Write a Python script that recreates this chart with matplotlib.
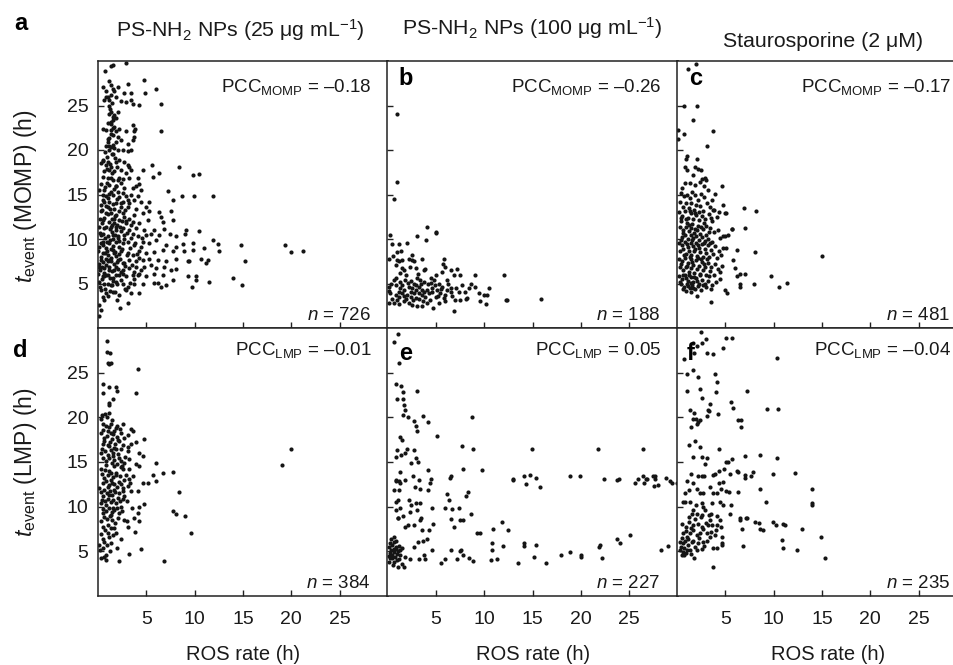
import numpy as np
import matplotlib
matplotlib.use("Agg")
import matplotlib.pyplot as plt

plt.rcParams['font.family'] = ['Liberation Sans', 'DejaVu Sans']
plt.rcParams['mathtext.fontset'] = 'custom'
plt.rcParams['mathtext.rm'] = 'Liberation Sans'
plt.rcParams['mathtext.it'] = 'Liberation Sans:italic'
plt.rcParams['mathtext.bf'] = 'Liberation Sans:bold'

# ---- data (ROS rate, t_event) ----
pts_a = [
    (1.34, 29.4), (1.52, 29.6), (0.76, 28.9), (2.9, 29.8),
    (1.17, 27.7), (1.34, 27.3), (0.48, 27.1), (1.52, 26.9), (2.03, 27.1), (3.14, 27.4), (4.79, 27.9), (6.0, 26.9),
    (1.69, 26.6), (2.72, 26.4), (3.41, 26.4), (4.9, 26.4), (0.83, 26.6), (1.0, 26.0), (1.34, 26.2), (1.86, 26.0),
    (0.66, 25.6), (1.17, 25.6), (2.38, 25.5), (2.9, 25.4), (3.41, 25.6), (4.28, 25.1), (6.52, 25.2), (3.59, 25.2),
    (1.17, 24.9), (1.34, 24.3), (1.69, 23.9), (1.17, 24.1), (1.86, 23.6), (1.34, 23.2), (2.03, 24.3), (1.52, 23.4),
    (1.0, 23.0), (2.21, 22.4), (3.59, 22.8), (3.86, 22.4), (3.76, 22.1), (3.76, 21.5), (6.52, 22.1), (1.69, 22.6),
    (0.48, 22.4), (0.83, 22.2), (1.34, 22.2), (1.86, 22.1), (2.9, 22.1), (1.52, 21.7), (2.03, 21.5), (1.17, 21.3),
    (1.0, 20.9), (1.86, 20.9), (2.38, 21.1), (3.07, 20.7), (3.59, 21.1), (0.83, 20.4), (1.34, 20.3), (1.69, 20.2),
    (1.17, 20.0), (2.03, 20.0), (2.55, 20.0), (3.07, 19.9), (3.41, 20.0), (1.52, 19.6),
    (0.48, 18.9), (1.0, 18.7), (0.83, 18.3), (0.31, 18.5), (1.34, 18.1), (1.86, 18.7), (2.21, 18.9), (2.72, 18.7),
    (3.07, 18.3), (3.24, 18.1), (1.17, 17.8), (1.69, 17.6), (2.38, 17.8), (2.9, 17.4), (3.41, 17.8), (4.62, 17.8),
    (5.59, 18.3), (5.72, 17.0), (6.34, 17.4), (8.34, 18.1), (9.86, 17.2), (10.48, 17.3), (0.48, 17.0), (1.0, 16.8),
    (1.52, 16.6), (2.03, 16.6), (2.55, 16.7), (3.24, 16.8), (4.1, 16.8), (4.28, 16.2), (3.93, 15.9), (4.45, 15.5),
    (1.17, 16.1), (1.86, 15.9), (2.38, 16.3), (0.66, 15.5), (1.34, 15.3), (2.03, 15.3), (2.72, 15.7), (3.59, 15.7),
    (7.21, 15.4), (0.83, 14.8), (1.52, 14.9), (2.21, 14.7), (2.9, 14.8), (3.41, 14.9), (4.1, 14.8), (0.48, 14.4),
    (1.17, 14.2), (1.86, 14.0), (2.55, 14.2), (3.24, 14.0), (3.76, 14.4), (4.45, 14.2), (5.31, 14.2), (7.72, 14.4),
    (8.69, 14.8), (9.97, 14.8), (11.86, 14.8), (1.0, 13.6), (1.69, 13.4), (2.38, 13.6), (3.07, 13.6), (3.93, 13.4),
    (4.97, 13.6),
    (0.31, 13.1), (0.83, 12.9), (1.34, 12.9), (1.86, 12.7), (2.21, 13.1), (2.72, 12.5), (3.24, 12.3), (3.76, 12.7),
    (4.62, 12.9), (5.31, 13.1), (6.34, 13.0), (6.52, 12.5), (7.55, 13.1), (0.48, 12.1), (1.17, 11.9), (1.69, 11.8),
    (2.21, 12.1), (2.9, 11.8), (3.59, 11.9), (4.28, 11.8), (5.14, 12.1), (6.69, 11.9), (7.72, 12.1), (0.14, 11.4),
    (0.66, 11.2), (1.34, 11.4), (1.86, 11.0), (2.55, 11.2), (3.24, 11.0), (3.93, 11.2), (4.79, 11.0), (5.83, 11.0),
    (6.86, 11.1), (9.1, 11.0), (9.03, 10.6), (10.48, 10.9), (0.31, 10.4), (1.0, 10.3), (1.52, 10.4), (2.03, 10.1),
    (2.72, 10.4), (3.41, 10.1), (4.1, 10.3), (4.97, 10.4), (5.48, 10.6), (6.34, 10.4), (7.45, 10.6), (8.07, 10.3),
    (0.48, 9.7), (1.17, 9.5), (1.86, 9.7), (2.55, 9.5), (3.07, 9.7), (3.76, 9.3), (4.62, 9.7), (5.31, 9.6),
    (6.0, 9.9), (7.03, 9.3), (8.07, 9.1), (8.83, 9.4), (9.79, 9.5), (11.86, 9.9), (12.38, 9.4), (0.14, 9.1),
    (0.83, 9.0), (1.52, 8.8), (2.21, 9.1),
    (0.05, 8.6), (0.48, 8.4), (1.0, 8.2), (1.69, 8.4), (2.38, 8.6), (3.07, 8.4), (3.59, 8.2), (4.28, 8.6),
    (4.97, 8.4), (5.83, 8.5), (6.69, 8.8), (7.72, 8.6), (8.93, 8.6), (9.79, 8.8), (11.0, 9.0), (12.55, 8.7),
    (0.31, 7.6), (0.83, 7.8), (1.34, 7.5), (2.03, 7.6), (2.72, 7.3), (3.24, 7.6), (3.93, 7.5), (4.62, 7.6),
    (5.31, 7.8), (6.17, 7.6), (7.03, 7.5), (8.07, 7.8), (9.45, 7.5), (10.66, 7.8), (11.34, 7.6), (11.17, 7.3),
    (0.14, 6.9), (0.66, 6.7), (1.17, 6.5), (1.86, 6.9), (2.55, 6.5), (3.24, 6.7), (3.76, 6.3), (4.79, 6.9),
    (5.48, 7.1), (6.0, 6.7), (6.86, 6.9), (7.55, 6.5), (8.07, 6.6), (9.28, 7.5), (0.03, 6.1), (0.48, 5.8),
    (1.0, 6.0), (1.52, 5.6), (2.21, 6.0), (2.9, 5.8), (3.59, 6.0), (4.28, 6.1), (4.97, 5.8), (5.83, 6.1),
    (6.69, 6.0), (7.72, 5.4), (9.28, 5.8), (10.14, 5.8), (0.14, 5.2), (0.66, 5.0), (1.34, 4.8), (1.86, 5.2),
    (2.55, 5.0), (3.07, 4.6), (3.76, 5.0), (4.62, 5.0), (5.83, 5.1), (6.17, 5.1), (7.03, 4.8), (10.14, 5.4),
    (11.52, 5.2), (13.93, 5.6), (0.31, 4.3), (0.83, 3.9), (1.52, 4.1), (2.21, 3.7), (2.9, 4.3), (3.41, 3.9),
    (4.28, 3.9), (6.52, 4.6), (9.72, 4.6), (0.48, 3.5), (0.14, 2.6), (3.07, 2.8), (2.28, 2.2), (0.14, 1.3),
    (14.8, 9.3), (19.3, 9.3), (20.0, 8.5), (21.2, 8.6), (15.2, 7.5), (14.9, 4.8),
    (0.2, 4.6), (0.4, 5.5), (0.6, 6.2), (0.8, 7.1), (1.0, 5.0), (1.1, 6.8), (1.3, 7.9), (1.5, 6.4),
    (1.7, 7.2), (1.9, 8.1), (2.1, 6.6), (2.3, 7.7), (2.5, 8.9), (0.3, 8.0), (0.5, 9.3), (0.7, 10.1),
    (0.9, 8.7), (1.2, 9.9), (1.4, 10.8), (1.6, 9.2), (1.8, 10.5), (2.0, 11.6), (2.2, 9.8), (2.4, 10.9),
    (0.2, 10.7), (0.4, 11.8), (0.6, 12.4), (0.8, 11.3), (1.0, 12.8), (1.2, 13.4), (1.4, 12.2), (1.6, 13.9),
    (1.8, 12.6), (2.0, 14.5), (0.3, 13.8), (0.5, 14.9), (0.7, 15.8), (0.9, 16.3), (1.1, 15.1), (1.3, 16.9),
    (1.5, 17.4), (1.7, 15.6), (1.9, 16.0), (0.6, 17.6), (0.9, 19.2), (1.2, 18.4), (1.4, 19.5), (1.6, 20.6),
    (1.0, 21.2), (1.3, 22.9), (1.6, 23.7), (1.2, 24.6), (0.8, 25.9), (1.4, 25.3), (0.2, 6.5), (0.5, 7.4),
    (0.7, 4.4), (1.2, 4.2), (1.6, 5.3), (2.0, 4.9), (2.6, 6.1), (2.8, 7.0), (3.0, 8.2), (3.3, 9.0),
    (2.7, 10.0), (3.0, 10.7), (2.6, 12.9), (2.9, 12.0), (0.1, 7.2), (0.35, 9.6), (0.55, 10.6), (0.75, 8.4),
    (0.95, 9.7), (1.15, 7.6), (1.35, 8.9), (1.55, 10.0), (1.75, 8.5), (1.95, 7.4), (2.15, 8.3), (2.35, 6.3),
    (2.55, 7.3), (0.45, 6.8), (0.65, 5.8), (0.85, 6.0), (1.05, 7.5), (1.25, 5.6), (1.45, 4.8), (1.65, 6.5),
    (1.85, 5.9), (2.05, 10.3), (2.25, 11.3), (2.45, 12.0), (0.25, 12.2), (0.45, 13.3), (0.65, 14.2), (0.85, 13.7),
    (1.05, 14.6), (1.25, 11.1), (1.45, 11.6), (1.65, 12.3), (1.85, 11.4), (0.15, 15.5), (0.35, 16.2), (0.55, 18.8),
    (0.75, 19.8), (0.95, 17.9), (1.15, 20.4), (1.35, 21.8), (1.55, 22.5), (1.75, 19.1), (1.95, 18.1), (2.2, 16.8),
    (2.4, 14.1), (2.6, 15.2), (2.8, 13.3), (3.1, 14.4), (3.4, 11.6), (3.6, 10.6), (3.8, 9.5), (3.5, 7.1),
    (3.9, 6.8), (4.2, 7.9), (4.4, 9.1), (4.6, 10.1), (4.0, 8.3), (3.7, 5.5), (4.1, 5.9), (4.4, 6.5),
    (2.75, 4.4), (3.3, 5.1), (2.4, 5.4), (0.6, 3.2), (1.0, 3.6), (1.8, 4.0), (0.3, 2.0), (2.0, 3.1),
]

pts_b = [
    (1.0, 24.1), (1.0, 16.4), (0.72, 14.5), (4.1, 11.3), (5.0, 10.8), (5.05, 10.7), (3.07, 10.3), (4.03, 9.9),
    (0.31, 10.4), (0.48, 9.4), (1.17, 9.4), (2.03, 9.5), (1.0, 8.5), (0.14, 7.7), (1.0, 7.6), (1.17, 7.5),
    (1.52, 7.6), (2.21, 7.8), (2.55, 7.6), (2.72, 7.5), (3.59, 7.7), (5.83, 7.7), (5.76, 7.2), (0.83, 7.1),
    (1.52, 6.7), (1.69, 6.5), (2.9, 6.7), (3.76, 6.5), (3.93, 6.6), (5.66, 6.3), (6.52, 6.5), (7.14, 6.6),
    (6.86, 6.0), (7.45, 6.0), (9.03, 6.0), (12.03, 6.0),
    (0.66, 5.4), (1.34, 5.2), (1.86, 5.4), (2.38, 5.3), (2.72, 5.0), (3.07, 5.6), (3.41, 5.4), (3.76, 5.2),
    (4.45, 5.6), (4.79, 5.4), (5.31, 5.0), (6.17, 5.4),
    (0.14, 4.6), (0.83, 4.8), (1.34, 4.5), (1.69, 4.3), (2.21, 4.6), (2.55, 4.5), (2.9, 4.3), (3.24, 4.6),
    (3.59, 4.3), (4.1, 4.3), (4.62, 4.5), (5.14, 4.3), (5.66, 4.6), (6.17, 4.3), (6.52, 4.5), (7.38, 4.1),
    (8.41, 4.5), (8.59, 5.0), (9.1, 4.6), (10.48, 4.5), (9.45, 3.9), (9.97, 3.7), (10.31, 3.7),
    (0.31, 3.9), (0.83, 3.7), (1.17, 3.5), (1.52, 3.9), (2.03, 3.7), (2.38, 3.5), (2.72, 3.9), (3.24, 3.3),
    (3.59, 3.7), (3.93, 3.5), (4.28, 3.9), (4.97, 3.5), (5.48, 3.9), (6.0, 3.7), (6.52, 4.1), (7.03, 3.2),
    (7.55, 3.2), (8.07, 3.3), (8.24, 3.4), (9.62, 3.0), (10.24, 2.7), (12.31, 3.1), (12.4, 3.1), (15.83, 3.3),
    (0.14, 2.8), (0.66, 2.8), (1.17, 2.7), (1.69, 3.0), (2.21, 2.8), (2.55, 2.6), (3.07, 2.5), (3.59, 2.5),
    (4.1, 2.8), (4.72, 2.3), (5.31, 2.8), (6.0, 3.0), (6.93, 1.9),
    (0.4, 5.0), (0.9, 5.6), (1.2, 4.1), (1.5, 4.8), (1.9, 3.3), (2.1, 5.1), (2.4, 4.0), (2.6, 3.2),
    (3.0, 4.8), (3.3, 3.9), (3.5, 5.0), (3.8, 4.0), (4.2, 4.9), (4.4, 3.1), (4.6, 4.0), (4.9, 4.8),
    (5.2, 3.6), (5.5, 4.4), (5.8, 3.4), (6.3, 4.9), (6.7, 3.6), (7.1, 4.5), (7.7, 4.8), (8.0, 4.0),
    (1.3, 6.2), (1.9, 6.0), (2.3, 6.9), (3.2, 6.1), (0.5, 3.3), (0.2, 4.2), (1.0, 3.1), (2.9, 3.4),
    (3.7, 3.0), (4.5, 5.1), (5.0, 5.9), (6.0, 6.8), (0.6, 8.1), (1.4, 8.7), (2.5, 8.2), (1.7, 3.6),
]

pts_c = [
    (1.93, 29.7), (1.17, 29.1), (0.76, 24.9), (2.03, 24.9), (1.62, 23.4), (0.14, 22.2), (0.72, 21.8), (0.14, 21.2),
    (3.76, 22.1), (3.07, 20.4), (1.0, 19.3), (0.93, 19.0), (2.03, 19.0),
    (0.83, 18.1), (1.0, 17.8), (1.86, 18.1), (2.21, 17.9), (1.69, 17.2), (2.48, 17.8), (2.9, 16.8), (2.55, 16.7),
    (3.0, 16.6), (0.48, 15.7), (0.83, 16.3), (1.34, 16.3), (1.86, 16.1), (2.38, 16.4), (2.83, 15.9), (3.93, 15.1),
    (4.62, 15.9), (3.59, 14.4), (3.24, 15.5),
    (0.4, 15.2), (0.7, 14.8), (1.0, 15.0), (1.3, 14.6), (1.6, 15.3), (1.9, 14.9), (2.2, 14.4), (2.5, 15.1),
    (2.8, 14.7), (0.3, 14.2), (0.9, 14.1), (1.5, 14.0), (2.0, 13.8), (3.1, 14.1), (3.4, 13.6), (0.6, 13.6),
    (1.2, 13.5), (1.8, 13.3), (2.4, 13.7), (2.7, 13.2), (3.8, 13.3), (4.3, 13.0),
    (0.2, 13.0), (0.5, 12.6), (0.8, 13.1), (1.1, 12.4), (1.4, 12.9), (1.7, 12.2), (2.0, 12.7), (2.3, 12.1),
    (2.6, 12.6), (2.9, 12.3), (3.3, 12.8), (3.6, 12.0), (4.1, 12.5), (0.4, 12.0), (1.0, 11.8), (1.6, 11.7),
    (2.2, 11.5), (2.8, 11.8), (5.0, 12.9),
    (0.3, 11.3), (0.6, 11.0), (0.9, 11.4), (1.2, 10.9), (1.5, 11.2), (1.8, 10.7), (2.1, 11.0), (2.4, 10.6),
    (2.7, 11.1), (3.0, 10.5), (3.4, 11.2), (3.8, 10.8), (4.2, 11.0), (4.8, 10.3), (5.7, 11.1), (0.5, 10.2),
    (0.8, 10.5), (1.1, 10.0), (1.4, 10.4), (1.7, 10.1), (2.0, 10.3), (2.3, 9.9), (2.6, 10.2), (2.9, 9.8),
    (3.2, 10.0), (3.6, 9.7), (4.4, 10.1), (5.3, 10.5),
    (0.2, 9.6), (0.5, 9.3), (0.8, 9.7), (1.1, 9.1), (1.4, 9.5), (1.7, 9.2), (2.0, 9.6), (2.3, 9.0),
    (2.6, 9.4), (2.9, 8.9), (3.2, 9.3), (3.5, 8.8), (3.9, 9.2), (4.3, 8.7), (4.8, 9.0), (5.1, 9.0),
    (6.17, 8.8), (0.3, 8.6), (0.6, 8.9), (0.9, 8.3), (1.2, 8.7), (1.5, 8.2), (1.8, 8.6), (2.1, 8.1),
    (2.4, 8.5), (2.7, 8.0), (3.0, 8.4), (3.3, 8.0), (3.7, 8.3), (4.1, 7.9), (4.6, 8.2), (5.83, 7.6),
    (8.1, 8.5), (15.0, 8.1),
    (0.2, 7.8), (0.5, 7.5), (0.8, 7.9), (1.1, 7.3), (1.4, 7.7), (1.7, 7.1), (2.0, 7.6), (2.3, 7.0),
    (2.6, 7.4), (2.9, 6.9), (3.2, 7.3), (3.5, 6.8), (3.9, 7.2), (4.2, 6.6), (4.7, 7.0), (0.3, 6.8),
    (0.6, 6.5), (0.9, 6.9), (1.2, 6.3), (1.5, 6.7), (1.8, 6.2), (2.1, 6.6), (2.4, 6.1), (2.7, 6.5),
    (3.0, 6.0), (3.4, 6.4), (3.8, 6.0), (4.4, 6.3), (6.0, 6.7), (6.52, 6.1), (7.03, 6.1), (6.17, 5.8),
    (9.72, 5.8),
    (0.2, 5.8), (0.5, 5.5), (0.8, 5.9), (1.1, 5.3), (1.4, 5.7), (1.7, 5.2), (2.0, 5.6), (2.3, 5.0),
    (2.6, 5.4), (2.9, 4.9), (3.2, 5.3), (3.6, 4.8), (4.0, 5.2), (4.5, 5.5), (0.4, 4.9), (0.7, 4.6),
    (1.0, 5.0), (1.3, 4.5), (1.6, 4.8), (1.9, 4.4), (2.2, 4.7), (2.5, 4.3), (3.0, 4.6), (3.5, 4.4),
    (6.5, 5.0), (6.5, 4.6), (8.0, 5.0), (10.55, 4.6), (11.4, 5.1), (5.0, 4.3), (5.2, 3.9), (2.03, 3.6),
    (3.48, 2.9), (1.5, 4.1), (0.9, 4.2),
    (6.97, 13.5), (8.14, 13.1), (7.03, 11.2), (5.72, 11.1), (4.97, 10.3), (5.07, 12.9), (4.79, 13.8), (3.76, 13.3),
    (0.45, 12.4), (0.95, 12.2), (1.35, 13.2), (1.85, 12.9), (2.25, 13.0), (0.65, 10.7), (1.25, 11.6), (1.9, 11.1),
    (2.5, 11.3), (0.4, 9.9), (1.0, 9.4), (1.6, 9.9), (2.2, 9.3), (2.8, 9.6), (0.7, 8.2), (1.3, 8.0),
    (1.9, 8.9), (2.5, 7.8), (0.4, 7.2), (1.0, 7.0), (1.6, 7.4), (2.2, 7.9), (2.8, 7.2), (0.6, 6.0),
    (1.2, 5.9), (1.8, 5.7), (2.4, 5.9), (0.3, 5.2), (0.9, 5.6), (1.5, 5.1), (2.1, 5.3), (2.7, 4.8),
    (1.1, 4.7), (1.7, 4.5), (0.6, 4.4), (3.3, 5.8), (3.1, 7.7), (3.4, 9.6), (3.3, 10.8), (3.0, 11.5),
    (3.5, 12.4),
]

pts_d = [
    (0.9, 28.6), (0.9, 27.3), (1.24, 27.2), (1.0, 26.1), (1.34, 26.1), (1.17, 26.0), (4.1, 25.4), (0.55, 23.7),
    (1.17, 23.4), (1.86, 23.4), (1.93, 23.0), (0.55, 22.7), (3.93, 22.7), (1.52, 22.1), (1.1, 21.6), (1.17, 21.4),
    (0.76, 20.4), (1.17, 20.5), (0.9, 20.0), (0.41, 20.3), (0.31, 19.8),
    (0.48, 19.2), (1.34, 19.2), (2.55, 19.3), (1.86, 18.8), (1.0, 18.5), (3.41, 18.7), (3.59, 18.5), (0.31, 18.2),
    (1.52, 18.1), (2.38, 18.3), (3.07, 18.0), (0.66, 17.7), (2.03, 17.5), (2.72, 17.7), (4.79, 17.6), (3.93, 17.2),
    (3.41, 17.0), (0.48, 17.0), (1.17, 16.8), (1.69, 16.6), (2.38, 16.4), (3.07, 16.7), (4.28, 16.0), (4.62, 15.7),
    (0.31, 16.0), (1.0, 15.8), (1.52, 15.7), (2.21, 15.5), (3.24, 15.3), (2.72, 14.9), (3.93, 14.8), (4.28, 14.6),
    (6.0, 14.9), (0.83, 14.7), (1.69, 14.6), (2.38, 14.4), (0.31, 14.2), (1.17, 14.0), (1.86, 13.8), (2.55, 14.2),
    (3.17, 14.2), (5.66, 13.6), (6.69, 13.8), (7.79, 13.9), (0.66, 13.2), (1.34, 13.0), (2.21, 12.8), (3.24, 13.1),
    (6.0, 12.9), (4.62, 12.7), (5.14, 12.7), (0.14, 12.1), (1.0, 12.2), (1.69, 11.9), (2.55, 12.1), (3.07, 12.3),
    (3.41, 11.7), (4.1, 11.8), (8.41, 11.6), (0.48, 11.2), (1.17, 11.3), (2.03, 11.0), (2.72, 11.2), (4.79, 10.3),
    (4.28, 10.0), (3.52, 9.9), (0.31, 10.4), (0.83, 10.2), (1.52, 9.9), (2.38, 10.0), (0.48, 9.3), (1.34, 9.1),
    (2.21, 9.3), (4.1, 9.3), (4.28, 8.4), (3.76, 8.7), (7.79, 9.5), (8.07, 9.2), (9.03, 8.9), (2.72, 8.5),
    (2.97, 8.4), (2.03, 8.7), (0.31, 8.4), (1.0, 8.0), (1.69, 7.6), (0.48, 7.7), (3.07, 7.7), (3.86, 7.2),
    (9.62, 7.1), (0.31, 6.9), (1.17, 6.6), (1.86, 7.0), (2.38, 6.4), (0.66, 6.1), (1.34, 5.9), (0.14, 5.7),
    (0.48, 5.4), (4.45, 5.3), (1.93, 5.4), (0.83, 4.6), (0.31, 4.2), (0.83, 4.0), (3.24, 4.7), (2.21, 3.9),
    (6.83, 3.9), (19.0, 14.7), (20.0, 16.5),
    (0.5, 18.6), (0.8, 19.0), (1.1, 18.9), (1.3, 18.3), (1.7, 18.5), (2.0, 19.0), (2.3, 18.7), (0.6, 17.3),
    (0.9, 17.9), (1.2, 17.2), (1.5, 17.6), (1.8, 17.0), (2.2, 17.3), (2.6, 16.9), (0.4, 16.5), (0.7, 16.2),
    (1.0, 16.9), (1.3, 16.3), (1.6, 16.0), (1.9, 16.4), (2.1, 15.9), (0.5, 15.4), (0.8, 15.1), (1.1, 15.5),
    (1.4, 14.9), (1.7, 15.2), (2.0, 14.8), (2.4, 15.1), (2.8, 15.6), (0.4, 13.7), (0.7, 14.1), (1.0, 13.5),
    (1.3, 13.8), (1.6, 13.3), (1.9, 13.6), (2.3, 13.4), (2.7, 13.0), (0.5, 12.6), (0.8, 12.9), (1.1, 12.4),
    (1.4, 12.7), (1.7, 12.5), (2.0, 12.2), (2.4, 12.5), (0.3, 11.6), (0.6, 11.9), (0.9, 11.5), (1.2, 11.8),
    (1.5, 11.3), (1.8, 11.6), (2.2, 11.5), (2.6, 11.7), (0.4, 10.8), (0.7, 10.6), (1.0, 10.9), (1.3, 10.5),
    (1.6, 10.7), (1.9, 10.4), (2.3, 10.6), (0.5, 9.7), (0.8, 9.5), (1.1, 9.8), (1.4, 9.4), (1.7, 9.6),
    (2.0, 9.9), (2.5, 9.5), (0.6, 8.8), (0.9, 8.6), (1.2, 8.9), (1.5, 8.5), (1.8, 8.2), (0.7, 7.4),
    (1.0, 7.1), (1.3, 7.6), (1.6, 6.8), (0.5, 6.4), (0.9, 5.7), (1.2, 5.0), (0.2, 5.2), (0.6, 4.4),
    (2.6, 10.9), (2.9, 13.5), (3.0, 10.6), (3.3, 12.6), (3.6, 13.4), (2.5, 14.6), (3.1, 16.2), (1.5, 19.7),
    (2.0, 17.8),
]

pts_e = [
    (1.07, 29.3), (0.72, 28.4), (1.24, 26.1), (0.93, 23.7), (1.41, 23.5), (1.62, 22.8), (1.0, 22.0), (1.62, 22.0),
    (1.69, 21.4), (1.76, 20.8), (1.62, 20.3), (2.1, 20.0), (2.72, 19.6), (3.0, 19.0), (3.07, 18.5), (4.17, 19.5),
    (3.69, 20.2), (3.07, 23.0), (5.14, 17.9), (1.52, 17.5), (1.28, 17.8), (1.0, 16.3), (0.93, 15.6), (1.41, 15.8),
    (1.97, 16.5), (1.86, 16.0), (2.72, 16.3), (3.0, 15.4), (3.14, 15.0), (2.45, 14.9), (1.28, 13.9), (0.93, 12.9),
    (1.34, 12.7), (1.17, 11.9), (1.76, 13.0), (2.66, 13.4), (2.83, 12.2), (3.24, 13.0), (3.34, 12.0), (4.17, 14.1),
    (4.45, 13.1), (4.38, 12.7), (1.07, 10.7), (0.93, 10.5), (1.34, 9.8), (1.62, 8.9), (1.07, 8.7), (1.76, 7.7),
    (2.21, 10.7), (2.45, 10.2), (2.31, 9.4), (2.9, 10.4), (3.41, 10.4), (3.07, 9.6), (3.48, 8.7), (3.34, 8.5),
    (4.17, 11.9), (4.62, 9.8), (4.72, 8.1), (4.28, 7.4), (3.59, 7.4), (2.72, 7.9), (2.1, 8.0), (0.66, 6.6),
    (0.31, 5.9), (0.66, 6.0), (0.83, 5.3), (1.34, 5.2), (1.0, 4.7), (0.48, 4.6), (0.31, 4.2), (0.66, 3.8),
    (1.17, 4.1), (1.52, 3.6), (1.69, 3.2), (1.86, 4.4), (2.31, 4.1), (2.72, 5.5), (3.14, 6.1), (3.69, 6.2),
    (4.1, 6.4), (4.62, 5.1), (3.24, 4.1), (3.76, 4.6), (3.93, 4.1), (5.55, 3.7), (5.93, 4.1), (6.59, 5.2),
    (7.21, 4.1), (7.48, 5.0), (7.83, 4.6), (7.62, 5.1), (8.41, 4.2), (8.86, 3.9), (7.83, 14.2), (7.72, 16.8),
    (8.83, 16.4), (8.76, 20.0), (9.79, 14.1), (6.52, 13.4), (6.45, 13.2), (6.17, 11.4), (6.34, 10.7), (6.0, 9.8),
    (6.52, 8.6), (7.38, 9.9), (6.69, 9.7), (7.55, 8.5), (6.86, 7.7), (7.83, 8.5), (8.17, 11.2), (8.31, 11.6),
    (8.59, 9.2), (9.28, 7.1), (9.55, 7.0), (10.93, 7.5), (10.83, 5.9), (10.83, 5.2), (10.66, 4.0), (11.28, 4.1),
    (11.86, 8.3), (12.48, 7.4), (11.93, 5.6), (13.0, 13.1), (12.97, 13.0), (14.17, 13.4), (14.34, 12.5), (14.69, 13.5),
    (15.41, 13.2), (15.76, 12.2), (14.97, 16.4), (14.1, 5.9), (14.17, 5.6), (15.41, 5.7), (15.2, 4.4), (13.52, 3.7),
    (16.41, 3.7), (17.97, 4.6), (18.83, 4.9), (18.86, 13.4), (19.9, 13.4), (19.97, 4.6), (20.03, 4.4), (21.79, 16.4),
    (21.93, 5.5), (22.03, 5.7), (22.14, 4.2), (22.38, 13.1), (23.76, 13.0), (23.93, 13.1), (23.69, 6.4), (24.1, 5.9),
    (25.07, 6.8), (25.59, 12.7), (25.9, 13.1), (26.41, 16.4), (26.41, 13.4), (26.52, 12.6), (26.69, 13.1), (26.86, 13.1),
    (27.48, 13.4), (27.72, 13.4), (27.55, 12.3), (27.97, 12.4), (27.66, 13.1), (28.86, 13.2), (29.21, 12.9), (29.45, 12.7),
    (29.97, 12.7), (28.34, 5.2), (29.0, 5.6),
    (0.2, 5.5), (0.4, 5.1), (0.5, 5.7), (0.7, 4.9), (0.9, 5.5), (1.1, 5.0), (1.2, 5.6), (0.3, 4.8),
    (0.5, 4.3), (0.8, 4.4), (1.0, 4.0), (0.2, 3.8), (0.6, 3.5), (1.3, 4.6), (1.5, 5.4), (0.4, 6.4),
    (0.9, 6.2), (1.1, 3.3), (0.2, 4.5), (0.7, 5.3),
    (0.66, 11.9), (0.83, 13.0), (1.24, 12.9), (0.93, 9.6), (1.1, 8.7),
]

pts_f = [
    (2.45, 29.5), (2.97, 28.8), (2.55, 28.3), (2.1, 28.0), (1.62, 28.3), (1.79, 27.2), (3.07, 27.2), (3.76, 27.1),
    (4.79, 27.8), (5.03, 28.9), (5.72, 28.9), (0.72, 26.5), (10.31, 26.6),
    (1.0, 24.8), (1.62, 25.3), (2.21, 24.5), (3.93, 24.9), (4.1, 24.0), (1.0, 22.9), (2.38, 23.2), (2.62, 22.2),
    (4.03, 22.8), (7.28, 22.9), (3.41, 21.5), (3.24, 20.8), (3.34, 20.7), (3.07, 20.2), (5.55, 21.7), (5.83, 21.0),
    (4.28, 20.4), (1.34, 20.8), (1.79, 20.5), (1.62, 19.8), (1.97, 19.8), (2.21, 19.5), (2.38, 19.7), (1.41, 18.9),
    (2.1, 19.2), (6.34, 19.7), (6.59, 19.7), (6.62, 18.9), (9.34, 20.9), (10.41, 20.9),
    (1.24, 16.9), (1.86, 17.4), (2.38, 16.7), (4.38, 16.5), (1.62, 15.6), (2.55, 15.6), (3.07, 15.5), (2.9, 14.8),
    (5.03, 15.0), (5.31, 15.0), (5.66, 15.3), (7.03, 15.7), (8.59, 15.8), (10.31, 15.4), (1.0, 12.9), (1.45, 13.7),
    (2.21, 13.4), (2.55, 13.4), (2.83, 13.4), (3.69, 13.5), (3.93, 13.7), (4.38, 14.0), (4.86, 14.2), (5.48, 13.7),
    (6.17, 14.0), (6.34, 13.9), (7.03, 13.5), (7.03, 13.2), (7.9, 13.9), (7.62, 13.4), (9.97, 13.7), (12.21, 13.8),
    (0.83, 10.5), (0.59, 10.5), (1.69, 12.6), (1.28, 11.9), (2.03, 12.0), (2.38, 11.5), (2.72, 11.5), (3.41, 12.2),
    (3.76, 11.5), (4.17, 11.5), (4.38, 12.7), (4.72, 12.8), (4.52, 12.0), (5.07, 11.7), (5.41, 11.6), (6.34, 11.6),
    (8.59, 12.0), (9.21, 10.5), (13.93, 12.0), (13.93, 10.4), (13.93, 10.2), (0.83, 11.5), (1.34, 10.5), (1.97, 10.2),
    (2.55, 10.4), (2.72, 10.0), (3.59, 10.4), (4.45, 10.5), (4.79, 10.2), (5.55, 10.2), (1.69, 9.6), (1.52, 9.2),
    (2.1, 9.2), (2.55, 9.1), (3.34, 9.1), (3.48, 9.2), (4.1, 8.9), (5.48, 9.2), (6.52, 8.7), (6.52, 8.5),
    (7.14, 8.7), (7.28, 8.7), (8.07, 8.3), (8.52, 8.2), (8.59, 7.5), (8.93, 7.4), (9.97, 8.3), (10.24, 8.0),
    (10.93, 8.1), (11.17, 8.0), (12.97, 7.5), (6.76, 7.5), (0.48, 8.1), (0.93, 7.7), (1.28, 8.3), (1.69, 7.9),
    (2.21, 8.1), (2.55, 7.7), (3.0, 8.2), (3.41, 8.5), (3.59, 7.9), (4.03, 7.4), (4.45, 8.5), (4.52, 7.7),
    (4.1, 7.9),
    (0.31, 6.0), (0.59, 5.9), (0.83, 6.2), (1.17, 5.7), (1.52, 6.0), (1.86, 5.5), (2.21, 5.9), (2.72, 6.0),
    (3.07, 6.2), (3.41, 6.6), (3.93, 6.8), (4.62, 6.6), (4.62, 5.9), (0.31, 5.1), (0.66, 4.9), (1.0, 5.2),
    (1.41, 4.7), (1.76, 4.3), (2.03, 5.1), (2.55, 5.3), (3.76, 5.4), (4.17, 5.4), (4.62, 5.7), (6.86, 5.6),
    (0.48, 4.6), (0.72, 4.6), (0.93, 4.8), (10.83, 6.3), (11.0, 5.4), (12.38, 5.1), (14.9, 6.6), (15.31, 4.2),
    (3.69, 3.2), (0.59, 7.0), (1.0, 6.6), (1.34, 7.0), (1.69, 7.4), (2.03, 6.8), (2.38, 7.0), (2.72, 7.5),
    (3.07, 7.0),
    (0.5, 6.5), (0.7, 5.4), (0.9, 7.3), (1.1, 6.4), (1.3, 5.1), (1.5, 7.6), (1.7, 6.2), (1.9, 8.6),
    (2.3, 6.5), (2.5, 8.8), (2.9, 9.6), (3.2, 8.0), (0.4, 5.5), (1.2, 8.8), (2.8, 5.6), (3.5, 7.2),
]

col_titles = ['PS-NH$_2$ NPs (25 \u03bcg mL$^{\u22121}$)',
              'PS-NH$_2$ NPs (100 \u03bcg mL$^{\u22121}$)',
              'Staurosporine (2 \u03bcM)']
pcc_text = ['PCC$_{\\mathrm{MOMP}}$ = \u20130.18', 'PCC$_{\\mathrm{MOMP}}$ = \u20130.26',
            'PCC$_{\\mathrm{MOMP}}$ = \u20130.17', 'PCC$_{\\mathrm{LMP}}$ = \u20130.01',
            'PCC$_{\\mathrm{LMP}}$ = 0.05', 'PCC$_{\\mathrm{LMP}}$ = \u20130.04']
n_cells = [726, 188, 481, 384, 227, 235]
letters = ['a', 'b', 'c', 'd', 'e', 'f']
tick_vals = [5, 10, 15, 20, 25]

W, H = 954, 665
fig = plt.figure(figsize=(W / 100, H / 100), dpi=100)

lefts = [98, 387.5, 677]
tops = [61, 328]
heights = [267, 268]
pw = 290

all_pts = [pts_a, pts_b, pts_c, pts_d, pts_e, pts_f]
ink = '#151515'

for i, pts in enumerate(all_pts):
    r, c = divmod(i, 3)
    ax = fig.add_axes([lefts[c] / W, 1 - (tops[r] + heights[r]) / H, pw / W, heights[r] / H])
    arr = np.array(pts)
    ax.plot(arr[:, 0], arr[:, 1], 'o', ms=3.0, mew=0, color=ink)
    ax.set_xlim(0, 30)
    ax.set_ylim(0, 30)
    ax.set_xticks(tick_vals)
    ax.set_yticks(tick_vals)
    ax.tick_params(direction='in', length=4, width=1.0, colors='#222222', labelsize=14,
                   labelcolor='#1a1a1a')
    ax.tick_params(axis='x', pad=11)
    ax.tick_params(axis='y', pad=7)
    if r == 0:
        ax.tick_params(labelbottom=False)
    if c > 0:
        ax.tick_params(labelleft=False)
    for sp in ax.spines.values():
        sp.set_linewidth(1.1)
        sp.set_color('#222222')
    top_off = 31 if r == 0 else 27
    ax.text(1 - 16 / pw, 1 - top_off / heights[r], pcc_text[i], transform=ax.transAxes,
            ha='right', va='baseline', fontsize=13.5, color='#1a1a1a')
    ax.text(1 - 17 / pw, 8.5 / heights[r], '$n$ = %d' % n_cells[i], transform=ax.transAxes,
            ha='right', va='baseline', fontsize=13.5, color='#1a1a1a')

# panel letters
letter_pos = [(14, 30), (398, 85), (689, 85), (13, 357), (399, 360), (687, 360)]
for l, (x, y) in zip(letters, letter_pos):
    fig.text(x / W, 1 - y / H, l, fontsize=17, fontweight='bold', ha='left', va='baseline')

title_pos = [(240, 37), (532, 35), (823, 47)]
for t, (x, y) in zip(col_titles, title_pos):
    fig.text(x / W, 1 - y / H, t, fontsize=15.3, ha='center', va='baseline', color='#1a1a1a')

fig.text(26 / W, 1 - 196 / H, '$t_{\\mathrm{event}}$ (MOMP) (h)', rotation=90,
         ha='center', va='center', fontsize=16.5, color='#1a1a1a')
fig.text(26 / W, 1 - 462 / H, '$t_{\\mathrm{event}}$ (LMP) (h)', rotation=90,
         ha='center', va='center', fontsize=16.5, color='#1a1a1a')
for x in [243, 533, 828]:
    fig.text(x / W, 1 - 655 / H, 'ROS rate (h)', ha='center', va='center', fontsize=14.5, color='#1a1a1a')

fig.savefig('out.png', dpi=100)
